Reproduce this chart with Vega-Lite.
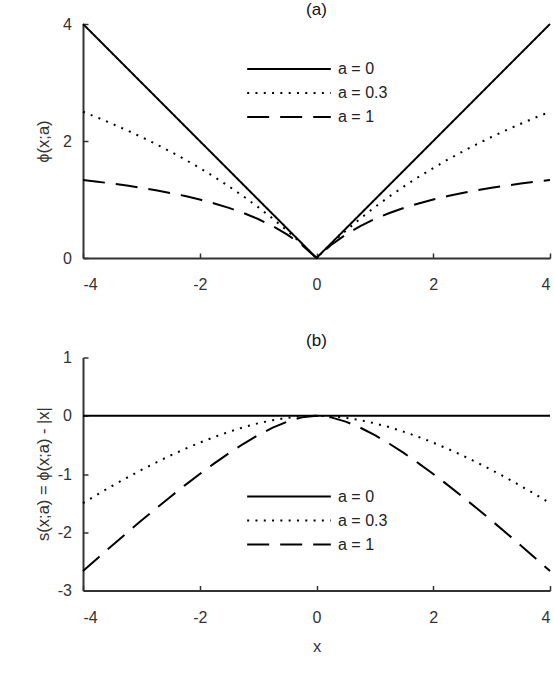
{
  "$schema": "https://vega.github.io/schema/vega-lite/v6.json",
  "padding": {"left": 35, "top": 1, "right": 2, "bottom": 2},
  "datasets": {
    "curves": [
      {"x": -4, "a": "a = 0", "phi": 4, "s": 0},
      {"x": 0, "a": "a = 0", "phi": 0, "s": 0},
      {"x": 4, "a": "a = 0", "phi": 4, "s": 0},
      {"x": -4, "a": "a = 0.3", "phi": 2.5, "s": -1.5},
      {"x": -3.75, "a": "a = 0.3", "phi": 2.4, "s": -1.35},
      {"x": -3.5, "a": "a = 0.3", "phi": 2.295, "s": -1.205},
      {"x": -3.25, "a": "a = 0.3", "phi": 2.185, "s": -1.065},
      {"x": -3, "a": "a = 0.3", "phi": 2.069, "s": -0.931},
      {"x": -2.75, "a": "a = 0.3", "phi": 1.947, "s": -0.803},
      {"x": -2.5, "a": "a = 0.3", "phi": 1.818, "s": -0.682},
      {"x": -2.25, "a": "a = 0.3", "phi": 1.682, "s": -0.568},
      {"x": -2, "a": "a = 0.3", "phi": 1.538, "s": -0.462},
      {"x": -1.75, "a": "a = 0.3", "phi": 1.386, "s": -0.364},
      {"x": -1.5, "a": "a = 0.3", "phi": 1.224, "s": -0.276},
      {"x": -1.25, "a": "a = 0.3", "phi": 1.053, "s": -0.197},
      {"x": -1, "a": "a = 0.3", "phi": 0.87, "s": -0.13},
      {"x": -0.75, "a": "a = 0.3", "phi": 0.674, "s": -0.076},
      {"x": -0.5, "a": "a = 0.3", "phi": 0.465, "s": -0.035},
      {"x": -0.25, "a": "a = 0.3", "phi": 0.241, "s": -0.009},
      {"x": 0, "a": "a = 0.3", "phi": 0, "s": 0},
      {"x": 0.25, "a": "a = 0.3", "phi": 0.241, "s": -0.009},
      {"x": 0.5, "a": "a = 0.3", "phi": 0.465, "s": -0.035},
      {"x": 0.75, "a": "a = 0.3", "phi": 0.674, "s": -0.076},
      {"x": 1, "a": "a = 0.3", "phi": 0.87, "s": -0.13},
      {"x": 1.25, "a": "a = 0.3", "phi": 1.053, "s": -0.197},
      {"x": 1.5, "a": "a = 0.3", "phi": 1.224, "s": -0.276},
      {"x": 1.75, "a": "a = 0.3", "phi": 1.386, "s": -0.364},
      {"x": 2, "a": "a = 0.3", "phi": 1.538, "s": -0.462},
      {"x": 2.25, "a": "a = 0.3", "phi": 1.682, "s": -0.568},
      {"x": 2.5, "a": "a = 0.3", "phi": 1.818, "s": -0.682},
      {"x": 2.75, "a": "a = 0.3", "phi": 1.947, "s": -0.803},
      {"x": 3, "a": "a = 0.3", "phi": 2.069, "s": -0.931},
      {"x": 3.25, "a": "a = 0.3", "phi": 2.185, "s": -1.065},
      {"x": 3.5, "a": "a = 0.3", "phi": 2.295, "s": -1.205},
      {"x": 3.75, "a": "a = 0.3", "phi": 2.4, "s": -1.35},
      {"x": 4, "a": "a = 0.3", "phi": 2.5, "s": -1.5},
      {"x": -4, "a": "a = 1", "phi": 1.333, "s": -2.667},
      {"x": -3.75, "a": "a = 1", "phi": 1.304, "s": -2.446},
      {"x": -3.5, "a": "a = 1", "phi": 1.273, "s": -2.227},
      {"x": -3.25, "a": "a = 1", "phi": 1.238, "s": -2.012},
      {"x": -3, "a": "a = 1", "phi": 1.2, "s": -1.8},
      {"x": -2.75, "a": "a = 1", "phi": 1.158, "s": -1.592},
      {"x": -2.5, "a": "a = 1", "phi": 1.111, "s": -1.389},
      {"x": -2.25, "a": "a = 1", "phi": 1.059, "s": -1.191},
      {"x": -2, "a": "a = 1", "phi": 1.0, "s": -1.0},
      {"x": -1.75, "a": "a = 1", "phi": 0.933, "s": -0.817},
      {"x": -1.5, "a": "a = 1", "phi": 0.857, "s": -0.643},
      {"x": -1.25, "a": "a = 1", "phi": 0.769, "s": -0.481},
      {"x": -1, "a": "a = 1", "phi": 0.667, "s": -0.333},
      {"x": -0.75, "a": "a = 1", "phi": 0.545, "s": -0.205},
      {"x": -0.5, "a": "a = 1", "phi": 0.4, "s": -0.1},
      {"x": -0.25, "a": "a = 1", "phi": 0.222, "s": -0.028},
      {"x": 0, "a": "a = 1", "phi": 0, "s": 0},
      {"x": 0.25, "a": "a = 1", "phi": 0.222, "s": -0.028},
      {"x": 0.5, "a": "a = 1", "phi": 0.4, "s": -0.1},
      {"x": 0.75, "a": "a = 1", "phi": 0.545, "s": -0.205},
      {"x": 1, "a": "a = 1", "phi": 0.667, "s": -0.333},
      {"x": 1.25, "a": "a = 1", "phi": 0.769, "s": -0.481},
      {"x": 1.5, "a": "a = 1", "phi": 0.857, "s": -0.643},
      {"x": 1.75, "a": "a = 1", "phi": 0.933, "s": -0.817},
      {"x": 2, "a": "a = 1", "phi": 1.0, "s": -1.0},
      {"x": 2.25, "a": "a = 1", "phi": 1.059, "s": -1.191},
      {"x": 2.5, "a": "a = 1", "phi": 1.111, "s": -1.389},
      {"x": 2.75, "a": "a = 1", "phi": 1.158, "s": -1.592},
      {"x": 3, "a": "a = 1", "phi": 1.2, "s": -1.8},
      {"x": 3.25, "a": "a = 1", "phi": 1.238, "s": -2.012},
      {"x": 3.5, "a": "a = 1", "phi": 1.273, "s": -2.227},
      {"x": 3.75, "a": "a = 1", "phi": 1.304, "s": -2.446},
      {"x": 4, "a": "a = 1", "phi": 1.333, "s": -2.667}
    ]
  },
  "vconcat": [
    {
      "title": {"text": "(a)", "offset": -3},
      "width": 467,
      "height": 234,
      "data": {"name": "curves"},
      "mark": {"type": "line", "color": "black", "strokeWidth": 2},
      "encoding": {
        "x": {"field": "x", "type": "quantitative", "scale": {"domain": [-4, 4], "nice": false}, "axis": {"values": [-4, -2, 0, 2, 4], "title": null}},
        "y": {"field": "phi", "type": "quantitative", "scale": {"domain": [0, 4], "nice": false}, "axis": {"values": [0, 2, 4], "title": "ϕ(x;a)", "titleX": -40, "titleY": 117, "titleBaseline": "middle", "titleAlign": "center", "titleAngle": -90}},
        "strokeDash": {
          "field": "a", "type": "nominal",
          "scale": {"domain": ["a = 0", "a = 0.3", "a = 1"], "range": [[1, 0], [2, 6.3], [22, 11]]},
          "legend": {"orient": "none", "legendX": 163, "legendY": 35, "title": null, "symbolType": "stroke", "symbolSize": 7000, "symbolStrokeWidth": 2, "symbolStrokeColor": "black", "labelFontSize": 16, "labelOffset": 6, "labelColor": "#222", "clipHeight": 20, "rowPadding": 4}
        }
      }
    },
    {
      "title": {"text": "(b)", "offset": 0},
      "width": 467,
      "height": 233,
      "data": {"name": "curves"},
      "mark": {"type": "line", "color": "black", "strokeWidth": 2},
      "encoding": {
        "x": {"field": "x", "type": "quantitative", "scale": {"domain": [-4, 4], "nice": false}, "axis": {"values": [-4, -2, 0, 2, 4], "title": "x", "titlePadding": 13}},
        "y": {"field": "s", "type": "quantitative", "scale": {"domain": [-3, 1], "nice": false}, "axis": {"values": [-3, -2, -1, 0, 1], "title": "s(x;a) = ϕ(x;a) - |x|", "titleX": -40, "titleY": 116, "titleBaseline": "middle", "titleAlign": "center", "titleAngle": -90}},
        "strokeDash": {
          "field": "a", "type": "nominal",
          "scale": {"domain": ["a = 0", "a = 0.3", "a = 1"], "range": [[1, 0], [2, 6.3], [22, 11]]},
          "legend": {"orient": "none", "legendX": 163, "legendY": 129, "title": null, "symbolType": "stroke", "symbolSize": 7000, "symbolStrokeWidth": 2, "symbolStrokeColor": "black", "labelFontSize": 16, "labelOffset": 6, "labelColor": "#222", "clipHeight": 20, "rowPadding": 4}
        }
      }
    }
  ],
  "spacing": 38.5,
  "resolve": {"scale": {"strokeDash": "independent", "y": "independent"}, "legend": {"strokeDash": "independent"}},
  "config": {
    "font": "Liberation Sans",
    "view": {"stroke": null},
    "axis": {"grid": false, "domainColor": "#333", "domainWidth": 2, "tickColor": "#333", "tickWidth": 1.5, "tickSize": -5, "labelFontSize": 16, "labelColor": "#333", "labelPadding": 23.5, "labelExpr": "'' + datum.value", "titleFontSize": 16.5, "titleFontWeight": "normal", "titleColor": "#333"},
    "axisY": {"labelPadding": 16.5},
    "title": {"fontSize": 17, "fontWeight": "normal", "color": "#111"}
  }
}
